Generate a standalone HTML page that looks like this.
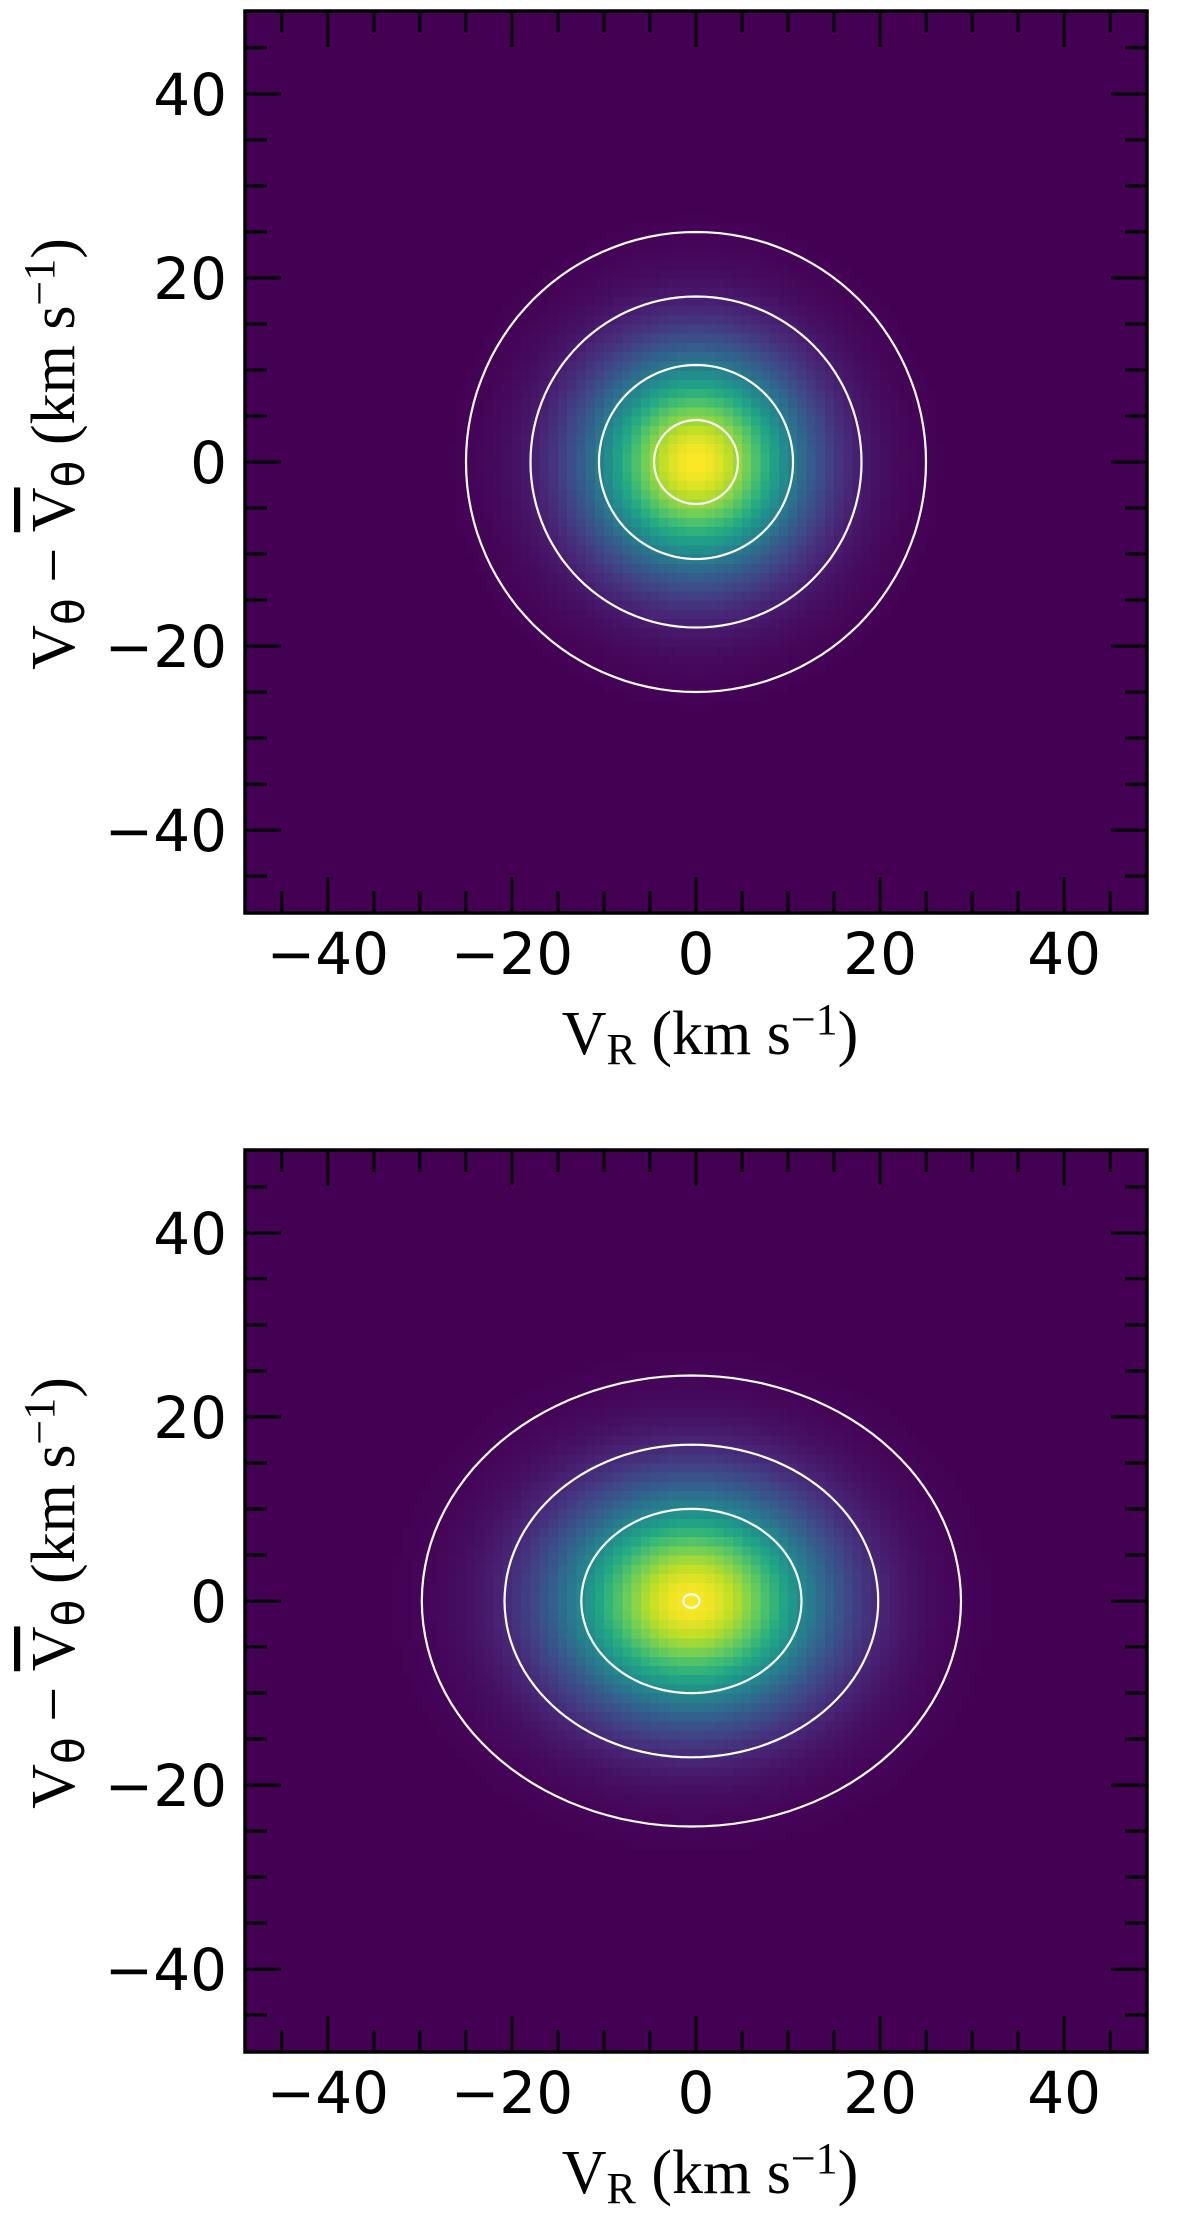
<!DOCTYPE html>
<html><head><meta charset="utf-8">
<style>
html,body{margin:0;padding:0;background:#fff;}
svg{display:block;}
.tick{font-family:"DejaVu Sans","Liberation Sans",sans-serif;font-size:58px;fill:#000;}
.lab{font-family:"Liberation Serif","DejaVu Serif",serif;font-size:62px;fill:#000;}
</style></head>
<body>
<svg id="fig" width="1200" height="2240" viewBox="0 0 1200 2240" xmlns="http://www.w3.org/2000/svg"></svg>
<script>
// ---- data ----
const panelNames = ["top-panel", "bottom-panel"];
const centerX = [0.0, -0.5];
const centerY = [0.0, 0.0];
const sigmaX = [8.0, 9.8];
const sigmaY = [8.0, 8.2];
const peakValue = [1.0, 1.0];
const contourLevelsTop = [0.0076, 0.08, 0.42, 0.85];
const contourLevelsBottom = [0.0115, 0.117, 0.475, 0.996];
const tickMajor = [-40, -20, 0, 20, 40];
const tickLabels = ["\u221240", "\u221220", "0", "20", "40"];
const tickMinor = [-45,-35,-30,-25,-15,-10,-5,5,10,15,25,30,35,45];

// ---- geometry ----
const NS = "http://www.w3.org/2000/svg";
const svg = document.getElementById("fig");
const LEFT = 245, SIZE = 902, VMIN = -49, VMAX = 49;
const tops = [11, 1150];
const scale = SIZE / (VMAX - VMIN);
function mk(tag, attrs, parent){ const e=document.createElementNS(NS,tag); for(const k in attrs) e.setAttribute(k,attrs[k]); (parent||svg).appendChild(e); return e; }
const vir = [[68,1,84],[72,35,116],[64,67,135],[52,94,141],[41,120,142],[32,144,140],[34,167,132],[68,190,112],[121,209,81],[189,222,38],[253,231,37]];
function viridis(t){ t=Math.max(0,Math.min(1,t)); const f=t*(vir.length-1); const i=Math.min(vir.length-2,Math.floor(f)); const u=f-i; const a=vir[i],b=vir[i+1]; return "rgb("+[0,1,2].map(k=>Math.round(a[k]+(b[k]-a[k])*u)).join(",")+")"; }

for (let p=0;p<2;p++){
  const top = tops[p];
  const xs = v => LEFT + (v - VMIN) * scale;
  const ys = v => top + (VMAX - v) * scale;
  const g = mk("g", {});
  
  
  const bg = mk("rect", {x:LEFT,y:top,width:SIZE,height:SIZE,fill:"#440154"}, g);
  
  
  const hm = mk("g", {"shape-rendering":"crispEdges"}, g);
  
  
  for (let bx=VMIN; bx<VMAX; bx++){
    for (let by=VMIN; by<VMAX; by++){
      const cx=bx+0.5, cy=by+0.5;
      const v = peakValue[p]*Math.exp(-((cx-centerX[p])**2)/(2*sigmaX[p]**2) - ((cy-centerY[p])**2)/(2*sigmaY[p]**2));
      if (v < 0.004) continue;
      const r = mk("rect", {x:xs(bx).toFixed(2), y:ys(by+1).toFixed(2), width:(scale+0.6).toFixed(2), height:(scale+0.6).toFixed(2), fill:viridis(v)}, hm);
      
      
    }
  }
  // contours
  const levels = p===0 ? contourLevelsTop : contourLevelsBottom;
  levels.forEach(L=>{
    const k = Math.sqrt(-2*Math.log(L/peakValue[p]));
    const pts=[];
    for(let i=0;i<=120;i++){ const a=i/120*2*Math.PI; pts.push(xs(centerX[p]+k*sigmaX[p]*Math.cos(a)).toFixed(1)+","+ys(centerY[p]+k*sigmaY[p]*Math.sin(a)).toFixed(1)); }
    const c = mk("polyline", {points:pts.join(" "), fill:"none", stroke:"#fff", "stroke-width":2.2}, g);
    
    
  });
  // ticks
  const tg = mk("g", {stroke:"#000","stroke-width":3}, g);
  
  
  const B = top+SIZE, R = LEFT+SIZE;
  [[tickMajor,36],[tickMinor,22]].forEach(([arr,len])=>{
    arr.forEach(v=>{
      mk("line",{x1:xs(v),x2:xs(v),y1:B,y2:B-len},tg);
      mk("line",{x1:xs(v),x2:xs(v),y1:top,y2:top+len},tg);
      mk("line",{x1:LEFT,x2:LEFT+len,y1:ys(v),y2:ys(v)},tg);
      mk("line",{x1:R,x2:R-len,y1:ys(v),y2:ys(v)},tg);
    });
  });
  const frame = mk("rect",{x:LEFT,y:top,width:SIZE,height:SIZE,fill:"none",stroke:"#000","stroke-width":3.5},g);
  
  
  tickMajor.forEach((v,i)=>{
    const tx = mk("text",{x:xs(v),y:B+61,"text-anchor":"middle",class:"tick"},g);
    tx.textContent = tickLabels[i];
    
    
    const ty = mk("text",{x:227,y:ys(v)+21,"text-anchor":"end",class:"tick"},g);
    ty.textContent = tickLabels[i];
    
    
  });
  // x label
  const xl = mk("text",{x:710,y:B+141,"text-anchor":"middle",class:"lab"},g);
  xl.innerHTML = 'V<tspan baseline-shift="-22%" font-size="44">R</tspan> (km s<tspan baseline-shift="45%" font-size="44">\u22121</tspan>)';
  
  
  // y label
  const cyc = top + SIZE/2 - 8;
  const yl = mk("text",{x:0,y:0,"text-anchor":"middle",class:"lab",transform:"translate(74,"+cyc+") rotate(-90)"},g);
  yl.innerHTML = 'V<tspan baseline-shift="-22%" font-size="44" font-family="DejaVu Sans">\u03b8</tspan> \u2212 <tspan text-decoration="overline" style="text-decoration:overline">V</tspan><tspan baseline-shift="-22%" font-size="44" font-family="DejaVu Sans">\u03b8</tspan> (km s<tspan baseline-shift="45%" font-size="44">\u22121</tspan>)';
  
  
}
</script>
</body></html>
